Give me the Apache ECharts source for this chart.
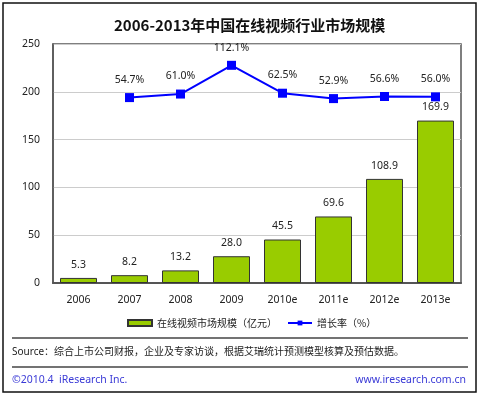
<!DOCTYPE html>
<html>
<head>
<meta charset="utf-8">
<script src="https://cdn.jsdelivr.net/npm/echarts@6/dist/echarts.min.js"></script>
<style>
  html, body { margin: 0; padding: 0; background: #fff; }
  #main { width: 480px; height: 396px; }
</style>
</head>
<body>
<div id="main"></div>
<script>
const years = ['2006', '2007', '2008', '2009', '2010e', '2011e', '2012e', '2013e']
const marketSize = [5.3, 8.2, 13.2, 28.0, 45.5, 69.6, 108.9, 169.9]
const growthRate = [null, 54.7, 61.0, 112.1, 62.5, 52.9, 56.6, 56.0]
const yTicks = [0, 50, 100, 150, 200, 250]

const font = '"Noto Sans", "Noto Sans CJK SC", sans-serif'
const chart = echarts.init(document.getElementById('main'))

const option = {
  animation: false,
  textStyle: { fontFamily: font },
  title: {
    text: '2006-2013年中国在线视频行业市场规模',
    left: 109,
    top: 13,
    textStyle: { fontSize: 15, fontWeight: 'bold', color: '#111', fontFamily: '"Noto Sans CJK SC", sans-serif' }
  },
  legend: {
    left: 122,
    top: 313,
    itemGap: 10,
    itemWidth: 24,
    itemHeight: 6,
    textStyle: { fontSize: 10, color: '#222', fontFamily: '"Noto Sans CJK SC", sans-serif' },
    data: [
      { name: '在线视频市场规模（亿元）', icon: 'rect' },
      { name: '增长率（%）' }
    ]
  },
  grid: {
    left: 53,
    right: 19,
    top: 44,
    bottom: 113,
    show: true,
    borderColor: '#555',
    borderWidth: 1.5
  },
  xAxis: {
    type: 'category',
    data: years,
    axisLine: { lineStyle: { color: '#555', width: 2 } },
    axisTick: { show: false },
    axisLabel: { color: '#222', fontSize: 10.5, margin: 12 }
  },
  yAxis: [
    {
      type: 'value',
      min: yTicks[0],
      max: yTicks[yTicks.length - 1],
      interval: 50,
      axisLine: { show: true, lineStyle: { color: '#555', width: 1.5 } },
      axisTick: { show: false },
      axisLabel: { color: '#222', fontSize: 10.5, margin: 13 },
      splitLine: { lineStyle: { color: '#ccc', width: 1 } }
    },
    {
      type: 'value',
      min: -275,
      max: 150,
      show: false,
      splitLine: { show: false }
    }
  ],
  series: [
    {
      name: '在线视频市场规模（亿元）',
      type: 'bar',
      data: marketSize,
      barWidth: 37,
      itemStyle: { color: '#99cc00', borderColor: '#333', borderWidth: 1 },
      label: {
        show: true,
        position: 'top',
        distance: 8,
        color: '#222',
        fontSize: 10.5,
        formatter: p => p.value.toFixed(1)
      }
    },
    {
      name: '增长率（%）',
      type: 'line',
      yAxisIndex: 1,
      data: growthRate,
      color: '#0000ff',
      lineStyle: { color: '#0000ff', width: 2 },
      symbol: 'rect',
      symbolSize: 9,
      itemStyle: { color: '#0000ff' },
      label: {
        show: true,
        position: 'top',
        distance: 8,
        color: '#222',
        fontSize: 10.5,
        formatter: p => p.value.toFixed(1) + '%'
      }
    }
  ],
  graphic: [
    {
      type: 'rect',
      shape: { x: 3, y: 3, width: 473, height: 389 },
      style: { fill: 'none', stroke: '#111', lineWidth: 1.5 },
      silent: true
    },
    {
      type: 'line',
      shape: { x1: 12, y1: 338, x2: 468, y2: 338 },
      style: { stroke: '#444', lineWidth: 1.5 }
    },
    {
      type: 'line',
      shape: { x1: 12, y1: 367, x2: 468, y2: 367 },
      style: { stroke: '#444', lineWidth: 1.5 }
    },
    {
      type: 'text',
      left: 12,
      top: 347,
      style: {
        text: 'Source：综合上市公司财报，企业及专家访谈，根据艾瑞统计预测模型核算及预估数据。',
        fill: '#222',
        fontSize: 10,
        fontFamily: font
      }
    },
    {
      type: 'text',
      left: 12,
      top: 375,
      style: { text: '©2010.4  iResearch Inc.', fill: '#3a3ad6', fontSize: 10.5, fontFamily: font }
    },
    {
      type: 'text',
      right: 14,
      top: 375,
      style: { text: 'www.iresearch.com.cn', fill: '#3a3ad6', fontSize: 10.5, fontFamily: font }
    }
  ]
}

chart.setOption(option)
</script>
</body>
</html>
